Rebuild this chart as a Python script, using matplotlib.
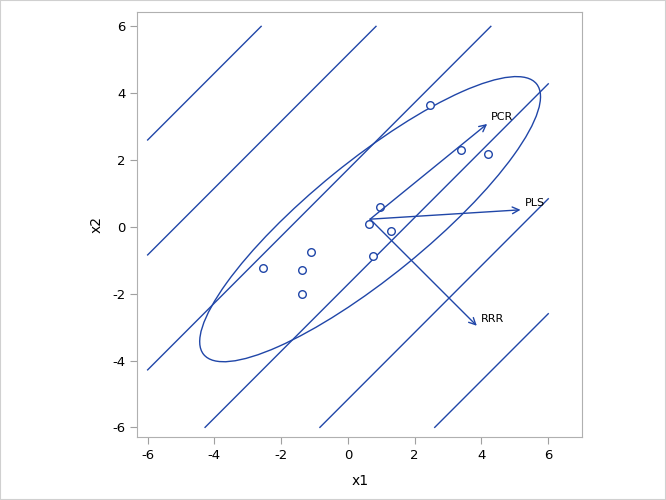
import numpy as np
import matplotlib
matplotlib.use("Agg")
import matplotlib.pyplot as plt
from matplotlib.patches import Ellipse, Rectangle

plt.rcParams["axes.unicode_minus"] = False

x1 = [2.46, 3.39, 4.20, 0.96, 0.64, 1.29, -1.10, -2.53, -1.37, 0.75, -1.39]
x2 = [3.64, 2.30, 2.18, 0.59, 0.09, -0.11, -0.74, -1.22, -1.30, -0.88, -2.02]

# contour lines x2 = x1 + c
line_offsets = [8.6, 5.16, 1.72, -1.72, -5.16, -8.6]

# direction arrows: label, tip x1, tip x2
arrow_labels = ["PCR", "PLS", "RRR"]
arrow_x1 = [4.17, 5.17, 3.86]
arrow_x2 = [3.08, 0.51, -2.96]

ELLIPSE_C2 = 5.75
BLUE = "#2046A8"

fig = plt.figure(figsize=(6.66, 5.0), dpi=100)
ax = fig.add_axes([137.3 / 666, 1 - 436.7 / 500, (582.3 - 137.3) / 666, (436.7 - 12) / 500])

# contour lines, restricted to [-6, 6] in both directions
for c in line_offsets:
    lo = max(-6, -6 - c)
    hi = min(6, 6 - c)
    xs = np.array([lo, hi])
    ax.plot(xs, xs + c, color=BLUE, lw=1.0)

# ellipse from the sample covariance
X = np.array([x1, x2])
mu = X.mean(axis=1)
S = np.cov(X)
vals, vecs = np.linalg.eigh(S)
order = vals.argsort()[::-1]
vals, vecs = vals[order], vecs[:, order]
angle = np.degrees(np.arctan2(vecs[1, 0], vecs[0, 0]))
w, h = 2 * np.sqrt(ELLIPSE_C2 * vals)
ax.add_patch(Ellipse(mu, w, h, angle=angle, fill=False, ec=BLUE, lw=1.0))

ax.scatter(x1, x2, s=30, facecolors="white", edgecolors=BLUE, linewidths=1.0, zorder=3)

for lab, ex, ey in zip(arrow_labels, arrow_x1, arrow_x2):
    ax.annotate("", xy=(ex, ey), xytext=(mu[0], mu[1]),
                arrowprops=dict(arrowstyle="->", color=BLUE, lw=1.0,
                                mutation_scale=12, shrinkA=0, shrinkB=0))
    ax.annotate(lab, xy=(ex, ey), xytext=(3, 5), textcoords="offset points",
                fontsize=8, ha="left", va="center", color="black")

ax.set_xlim(-6.31, 7.02)
ax.set_ylim(-6.28, 6.43)
ax.set_xticks(range(-6, 7, 2))
ax.set_yticks(range(-6, 7, 2))
ax.set_xlabel("x1", fontsize=10)
ax.set_ylabel("x2", fontsize=10)
ax.xaxis.labelpad = 9
ax.yaxis.labelpad = 6
for s in ax.spines.values():
    s.set_color("#B0B0B0")
ax.tick_params(colors="#A0A0A0", labelcolor="black", labelsize=9.5, length=5)

# light border around the whole image
fig.patches.append(Rectangle((0, 0), 1, 1, transform=fig.transFigure,
                             fill=False, ec="#D0D0D0", lw=1.5))

fig.savefig("out.png", dpi=100)
